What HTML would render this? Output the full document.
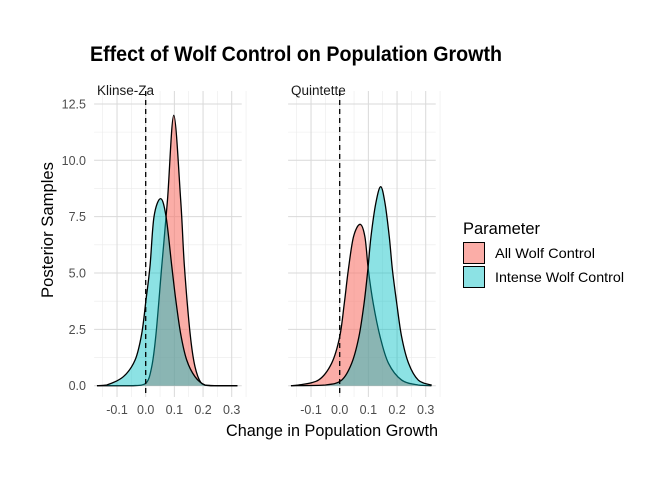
<!DOCTYPE html>
<html><head><meta charset="utf-8"><style>
body{margin:0;background:#fff;}
svg{display:block;font-family:"Liberation Sans",sans-serif;}
</style></head><body>
<svg id="chart" width="672" height="480" viewBox="0 0 672 480">
<text x="90" y="61" font-size="21" font-weight="bold" textLength="412" lengthAdjust="spacingAndGlyphs" fill="#000">Effect of Wolf Control on Population Growth</text>
<g id="plots"></g>
<text x="332" y="436" font-size="16.5" text-anchor="middle" textLength="212" lengthAdjust="spacingAndGlyphs" fill="#000">Change in Population Growth</text>
<text transform="translate(53,230) rotate(-90)" font-size="16.5" text-anchor="middle" textLength="136" lengthAdjust="spacingAndGlyphs" fill="#000">Posterior Samples</text>
<g>
<text x="463" y="234" font-size="16.5" fill="#000">Parameter</text>
<rect x="463.5" y="242.5" width="21" height="21" fill="rgba(248,118,109,0.6)" stroke="#000" stroke-width="1"/>
<text x="495" y="258" font-size="14" textLength="100" lengthAdjust="spacingAndGlyphs" fill="#000">All Wolf Control</text>
<rect x="463.5" y="266.5" width="21" height="21" fill="rgba(0,191,196,0.45)" stroke="#000" stroke-width="1"/>
<text x="495" y="282" font-size="14" textLength="129" lengthAdjust="spacingAndGlyphs" fill="#000">Intense Wolf Control</text>
</g>
</svg>
<script>
const panels = ["Klinse-Za", "Quintette"];
const xTicks = [-0.1, 0.0, 0.1, 0.2, 0.3];
const xTickLabels = ["-0.1", "0.0", "0.1", "0.2", "0.3"];
const yTicks = [0, 2.5, 5, 7.5, 10, 12.5];
const yTickLabels = ["0.0", "2.5", "5.0", "7.5", "10.0", "12.5"];
const kzAllX = [-0.17, -0.05, 0.0, 0.021, 0.036, 0.056, 0.076, 0.098, 0.122, 0.135, 0.155, 0.172, 0.195, 0.23, 0.32];
const kzAllY = [0, 0, 0.1, 0.84, 2.3, 5.3, 8.24, 12.0, 8.24, 5.3, 2.3, 0.84, 0.1, 0, 0];
const kzIntX = [-0.17, -0.136, -0.078, -0.037, -0.014, 0.001, 0.015, 0.029, 0.052, 0.071, 0.091, 0.105, 0.122, 0.143, 0.172, 0.207, 0.25, 0.32];
const kzIntY = [0, 0.03, 0.4, 1.14, 2.3, 3.8, 5.3, 7.5, 8.3, 7.5, 5.3, 3.8, 2.3, 1.14, 0.4, 0.03, 0, 0];
const qAllX = [-0.17, -0.144, -0.074, -0.028, 0.0, 0.016, 0.03, 0.048, 0.071, 0.088, 0.1, 0.117, 0.141, 0.17, 0.216, 0.274, 0.32];
const qAllY = [0, 0.03, 0.25, 1.0, 2.17, 3.65, 5.13, 6.6, 7.16, 6.6, 5.13, 3.65, 2.17, 1.0, 0.25, 0.03, 0];
const qIntX = [-0.17, -0.05, 0.007, 0.042, 0.067, 0.085, 0.098, 0.109, 0.126, 0.143, 0.158, 0.173, 0.184, 0.199, 0.216, 0.24, 0.274, 0.321];
const qIntY = [0, 0.03, 0.25, 1.0, 2.17, 3.65, 5.13, 6.6, 8.1, 8.83, 8.1, 6.6, 5.13, 3.65, 2.17, 1.0, 0.25, 0.02];

const NS = "http://www.w3.org/2000/svg";
const g = document.getElementById("plots");
const origins = [145.7, 339.7];
const pxPerUnit = 286.7;
const y0 = 385.7, pxPerY = 22.54;
function yScale(d){ return y0 - d * pxPerY; }
function el(tag, attrs){ const e = document.createElementNS(NS, tag); for (const k in attrs) e.setAttribute(k, attrs[k]); return e; }

function smoothPath(pts){
  let d = "M" + pts[0][0] + "," + pts[0][1];
  for (let i = 0; i < pts.length - 1; i++) {
    const p0 = pts[i-1] || pts[i], p1 = pts[i], p2 = pts[i+1], p3 = pts[i+2] || p2;
    const c1x = p1[0] + (p2[0]-p0[0])/6, c1y = p1[1] + (p2[1]-p0[1])/6;
    const c2x = p2[0] - (p3[0]-p1[0])/6, c2y = p2[1] - (p3[1]-p1[1])/6;
    d += " C" + c1x + "," + Math.min(c1y, y0) + " " + c2x + "," + Math.min(c2y, y0) + " " + p2[0] + "," + p2[1];
  }
  return d;
}

const series = [
  [[kzAllX, kzAllY], [kzIntX, kzIntY]],
  [[qAllX, qAllY], [qIntX, qIntY]]
];
const fills = ["rgba(248,118,109,0.6)", "rgba(0,191,196,0.45)"];
const names = ["all", "intense"];

panels.forEach((name, pi) => {
  const ox = origins[pi];
  const xS = v => ox + v * pxPerUnit;
  const left = xS(-0.18), right = xS(0.335);
  const pg = el("g", {});
  
  
  g.appendChild(pg);
  for (let i = 0; i < yTicks.length - 1; i++) {
    const m = (yTicks[i] + yTicks[i+1]) / 2;
    pg.appendChild(el("line", {x1:left, x2:right, y1:yScale(m), y2:yScale(m), stroke:"#ebebeb", "stroke-width":0.6}));
  }
  for (let i = 0; i < xTicks.length; i++) {
    const m = xTicks[i] - 0.05;
    pg.appendChild(el("line", {x1:xS(m), x2:xS(m), y1:91, y2:397, stroke:"#ebebeb", "stroke-width":0.6}));
  }
  pg.appendChild(el("line", {x1:xS(0.35), x2:xS(0.35), y1:91, y2:397, stroke:"#ebebeb", "stroke-width":0.6}));
  yTicks.forEach((t, i) => {
    pg.appendChild(el("line", {x1:left, x2:right, y1:yScale(t), y2:yScale(t), stroke:"#d9d9d9", "stroke-width":1}));
    if (pi === 0) {
      const tl = el("text", {x:86, y:yScale(t)+4.5, "font-size":12.5, "text-anchor":"end", fill:"#4d4d4d"});
      tl.textContent = yTickLabels[i];
      
      
      g.appendChild(tl);
    }
  });
  xTicks.forEach((t, i) => {
    pg.appendChild(el("line", {x1:xS(t), x2:xS(t), y1:91, y2:397, stroke:"#d9d9d9", "stroke-width":1}));
    const tl = el("text", {x:xS(t), y:414, "font-size":12.5, "text-anchor":"middle", fill:"#4d4d4d"});
    tl.textContent = xTickLabels[i];
    
    
    g.appendChild(tl);
  });
  const st = el("text", {x:xS(-0.17), y:95, "font-size":13.5, fill:"#1a1a1a"});
  st.textContent = name;
  
  
  g.appendChild(st);
  series[pi].forEach((s, si) => {
    const pts = s[0].map((x, k) => [xS(x), yScale(s[1][k])]);
    const d = smoothPath(pts);
    const area = el("path", {d: d + " L" + pts[pts.length-1][0] + "," + y0 + " L" + pts[0][0] + "," + y0 + " Z", fill: fills[si], stroke:"none"});
    
    
    pg.appendChild(area);
    const line = el("path", {d: d, fill:"none", stroke:"#000", "stroke-width":1.3});
    
    
    pg.appendChild(line);
  });
  const ref = el("line", {x1:xS(0), x2:xS(0), y1:91, y2:397, stroke:"#000", "stroke-width":1.3, "stroke-dasharray":"5,4"});
  
  
  pg.appendChild(ref);
});
</script>
</body></html>
